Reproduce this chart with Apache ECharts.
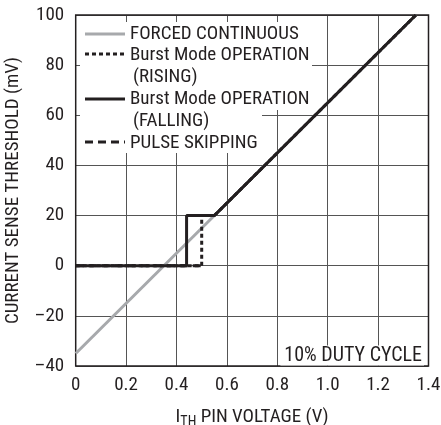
<!DOCTYPE html>
<html><head><meta charset="utf-8">
<script src="https://cdn.jsdelivr.net/npm/echarts@6/dist/echarts.min.js"></script>
<style>html,body{margin:0;padding:0;background:#fff}#c{width:441px;height:425px}</style>
</head><body><div id="c"></div>
<script>
var FONT = '"Roboto Condensed","DejaVu Sans Condensed",sans-serif';
var xTicks = [0, 0.2, 0.4, 0.6, 0.8, 1.0, 1.2, 1.4];
var yTicks = [-40, -20, 0, 20, 40, 60, 80, 100];
var forcedX = [0, 1.35];
var forcedY = [-35, 100];
var pulseX = [0, 0.5];
var pulseY = [0, 0];
var risingX = [0, 0.5, 0.5, 0.55, 1.35];
var risingY = [0, 0, 20, 20, 100];
var fallingX = [0, 0.44, 0.44, 0.55, 1.35];
var fallingY = [0, 0, 20, 20, 100];
var legendNames = ['FORCED CONTINUOUS', 'Burst Mode OPERATION\n(RISING)', 'Burst Mode OPERATION\n(FALLING)', 'PULSE SKIPPING'];

function pairs(xs, ys){ return xs.map(function(x,i){ return [x, ys[i]]; }); }

var chart = echarts.init(document.getElementById('c'));
var black = '#231f20';
var FS = 19;
function txt(s, x, y){
  return {type: 'text', z: 11, x: x, y: y, style: {text: s, font: FS + 'px ' + FONT, fill: black, textVerticalAlign: 'middle'}};
}
var option = {
  animation: false,
  grid: {left: 75.7, right: 12.5, top: 15, bottom: 59, show: true, borderColor: black, borderWidth: 1.5, z: 1,
    containLabel: false, outerBoundsMode: 'none'},
  xAxis: {
    type: 'value', min: 0, max: 1.4, interval: 0.2,
    axisLine: {show: false}, axisTick: {show: false},
    splitLine: {show: true, lineStyle: {color: '#555', width: 1}},
    axisLabel: {color: black, fontFamily: FONT, fontSize: FS, margin: 10,
      formatter: function(v){ return v === 0 ? '0' : v.toFixed(1); }},
    name: '{n|I}{s|TH}{n| PIN VOLTAGE (V)}', nameLocation: 'middle', nameGap: 40,
    nameTextStyle: {rich: {n: {fontFamily: FONT, fontSize: FS, color: black}, s: {fontFamily: FONT, fontSize: 14, color: black, padding: [9, 0, 0, 0]}}}
  },
  yAxis: {
    type: 'value', min: -40, max: 100, interval: 20,
    axisLine: {show: false}, axisTick: {show: false},
    splitLine: {show: true, lineStyle: {color: '#555', width: 1}},
    axisLabel: {color: black, fontFamily: FONT, fontSize: FS, margin: 11.5,
      formatter: function(v){ return String(v).replace('-', '\u2013'); }},
    name: 'CURRENT SENSE THRESHOLD (mV)', nameLocation: 'middle', nameGap: 53,
    nameTextStyle: {fontFamily: FONT, fontSize: 19, color: black}
  },
  series: [
    {name: legendNames[0], type: 'line', data: pairs(forcedX, forcedY), showSymbol: false, z: 2,
      lineStyle: {color: '#a7a9ac', width: 3}},
    {name: legendNames[3], type: 'line', data: pairs(pulseX, pulseY), showSymbol: false, z: 3,
      lineStyle: {color: black, width: 3, type: [8, 5]}},
    {name: legendNames[1], type: 'line', data: pairs(risingX, risingY), showSymbol: false, z: 4,
      lineStyle: {color: black, width: 3, type: [4, 3]}},
    {name: legendNames[2], type: 'line', data: pairs(fallingX, fallingY), showSymbol: false, z: 5,
      lineStyle: {color: black, width: 3}}
  ],
  graphic: [
    {type: 'rect', z: 10, shape: {x: 80, y: 22, width: 232, height: 88}, style: {fill: '#fff'}},
    {type: 'rect', z: 10, shape: {x: 80, y: 110, width: 182, height: 43}, style: {fill: '#fff'}},
    {type: 'line', z: 11, shape: {x1: 85, y1: 34, x2: 125, y2: 34}, style: {stroke: '#a7a9ac', lineWidth: 3}},
    {type: 'line', z: 11, shape: {x1: 85, y1: 54, x2: 125, y2: 54}, style: {stroke: black, lineWidth: 3, lineDash: [4, 3]}},
    {type: 'line', z: 11, shape: {x1: 85, y1: 99, x2: 125, y2: 99}, style: {stroke: black, lineWidth: 3}},
    {type: 'line', z: 11, shape: {x1: 85, y1: 142, x2: 125, y2: 142}, style: {stroke: black, lineWidth: 3, lineDash: [8, 5]}},
    txt(legendNames[0], 130, 34.5),
    txt('Burst Mode OPERATION', 130, 55),
    txt('(RISING)', 133, 77),
    txt('Burst Mode OPERATION', 130, 99),
    txt('(FALLING)', 133, 121),
    txt(legendNames[3], 130, 143),
    {type: 'text', z: 11, x: 424, y: 355.5, style: {text: '10% DUTY CYCLE', font: '20px ' + FONT, fill: black, textAlign: 'right', textVerticalAlign: 'middle', backgroundColor: '#fff', padding: [0, 2, 0, 4]}}
  ]
};
chart.setOption(option);
</script></body></html>
